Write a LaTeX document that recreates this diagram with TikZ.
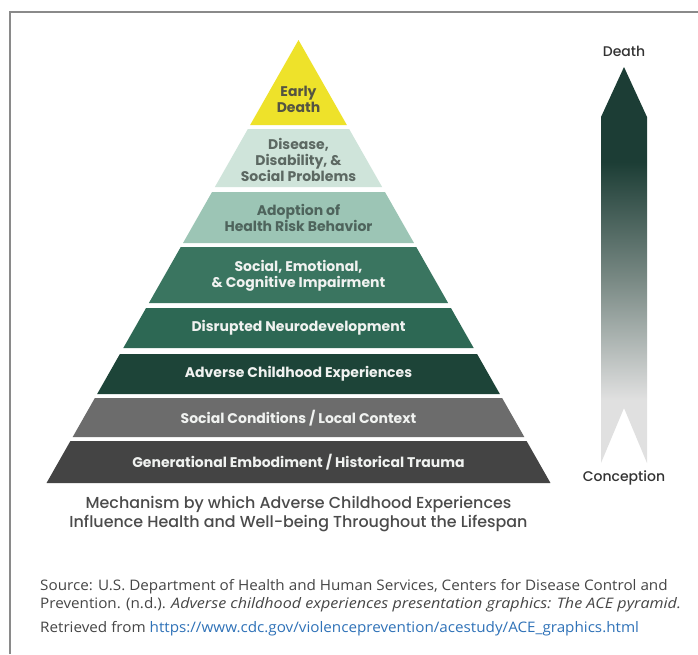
\documentclass[tikz,border=0pt]{standalone}
\usepackage{fontspec}
\setmainfont{Open Sans}[FakeStretch=1.05, ItalicFeatures={FakeStretch=1.11}]
\newfontfamily\pyrfont{Poppins}
\newfontfamily\capfont{Poppins Medium}
\usetikzlibrary{positioning}
\definecolor{framecolor}{RGB}{138,138,138}
\definecolor{lvlone}{RGB}{238,226,42}
\definecolor{lvltwo}{RGB}{207,228,218}
\definecolor{lvlthree}{RGB}{156,197,181}
\definecolor{lvlfour}{RGB}{58,117,96}
\definecolor{lvlfive}{RGB}{45,104,84}
\definecolor{lvlsix}{RGB}{29,68,56}
\definecolor{lvlseven}{RGB}{108,108,108}
\definecolor{lvleight}{RGB}{68,68,68}
\definecolor{txtolive}{RGB}{84,84,66}
\definecolor{txtmint}{RGB}{92,104,98}
\definecolor{txtsage}{RGB}{78,100,92}
\definecolor{txtlight}{RGB}{240,242,240}
\definecolor{captioncolor}{RGB}{75,75,75}
\definecolor{sourcecolor}{RGB}{70,70,70}
\definecolor{linkcolor}{RGB}{47,114,184}
\definecolor{arrowdark}{RGB}{28,61,53}
\definecolor{arrowmid}{RGB}{122,138,133}
\definecolor{arrowlight}{RGB}{224,224,224}
\pgfdeclareverticalshading{lifespan}{100bp}{color(0bp)=(arrowlight); color(33bp)=(arrowlight); color(48bp)=(arrowmid); color(63bp)=(arrowdark); color(100bp)=(arrowdark)}

\begin{document}
\begin{tikzpicture}[x=1pt, y=-1pt,
  lvllabel/.style={align=center, inner sep=0pt, font=\pyrfont\bfseries\fontsize{14}{16}\selectfont},
  endlabel/.style={inner sep=0pt, text=black!80, font=\capfont\fontsize{14}{16}\selectfont},
  sourcetext/.style={inner sep=0pt, text=sourcecolor, font=\fontsize{14.5}{18}\selectfont}]
  \useasboundingbox (0,0) rectangle (698,654);
  \fill[white] (0,0) rectangle (698,654);

  % Frame
  \draw[framecolor, line width=2pt] (9.5,654) -- (9.5,12) -- (698,12);

  % Pyramid levels (top y, bottom y, label y)
  \foreach \i/\ya/\yb/\yl/\fc/\tc/\txt in {
    1/40/125/99/lvlone/txtolive/{Early\\Death},
    2/129/187/160/lvltwo/txtmint/{Disease,\\Disability, \&\\Social Problems},
    3/192/243/218/lvlthree/txtsage/{Adoption of\\Health Risk Behavior},
    4/247/303/276/lvlfour/txtlight/{Social, Emotional,\\\& Cognitive Impairment},
    5/308/348/328/lvlfive/txtlight/{Disrupted Neurodevelopment},
    6/354/394/374/lvlsix/txtlight/{Adverse Childhood Experiences},
    7/398/437/418/lvlseven/txtlight/{Social Conditions / Local Context},
    8/441/483/462/lvleight/txtlight/{Generational Embodiment / Historical Trauma}}
  {
    \pgfmathsetmacro{\wa}{0.5688*(\ya-40)}
    \pgfmathsetmacro{\wb}{0.5688*(\yb-40)}
    \fill[\fc] (298.5-\wa,\ya) -- (298.5+\wa,\ya) -- (298.5+\wb,\yb) -- (298.5-\wb,\yb) -- cycle;
    \node[lvllabel, text=\tc] (lvl\i) at (298.5,\yl) {\txt};
  }

  % Caption under the pyramid
  \node[align=center, inner sep=0pt, text=captioncolor, font=\capfont\fontsize{15.9}{19}\selectfont] (caption) at (298.5,514)
    {Mechanism by which Adverse Childhood Experiences\\Influence Health and Well-being Throughout the Lifespan};

  % Lifespan arrow
  \shade[shading=lifespan] (624,67) -- (647,117) -- (647,463) -- (624,408) -- (601,463) -- (601,117) -- cycle;
  \node[endlabel] (death) at (624,51) {Death};
  \node[endlabel] (conception) at (624,478) {Conception};

  % Source
  \node[sourcetext, anchor=north west, align=left] (source) at (40,579)
    {Source: U.S. Department of Health and Human Services, Centers for Disease Control and\\
     Prevention. (n.d.). \textit{Adverse childhood experiences presentation graphics: The ACE pyramid.}};
  \node[sourcetext, below=9pt of source.south west, anchor=north west] (retrieved)
    {Retrieved from \textcolor{linkcolor}{https://www.cdc.gov/violenceprevention/acestudy/ACE\_graphics.html}};
\end{tikzpicture}
\end{document}
